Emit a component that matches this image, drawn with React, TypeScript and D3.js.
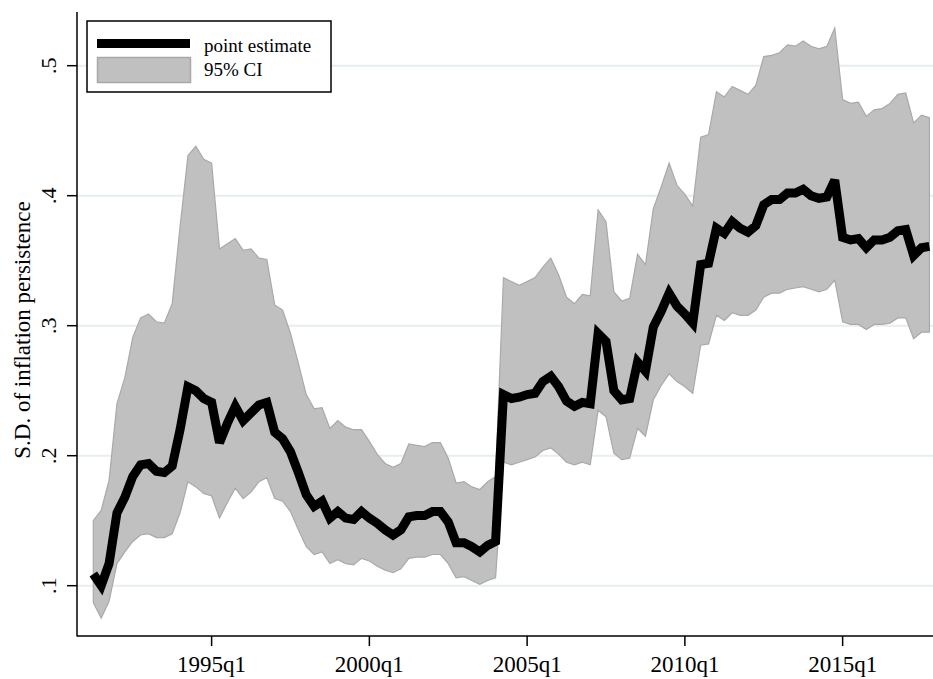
import React from "react";
import * as d3 from "d3";

const startYear = 1991;
const startQuarter = 2;

const estimate = [
  0.109, 0.100, 0.117, 0.156, 0.168, 0.184, 0.193, 0.194, 0.188, 0.187,
  0.192, 0.220, 0.253, 0.250, 0.244, 0.241, 0.210, 0.225, 0.238, 0.227,
  0.233, 0.239, 0.241, 0.218, 0.213, 0.203, 0.187, 0.170, 0.161, 0.165,
  0.152, 0.157, 0.152, 0.151, 0.157, 0.152, 0.148, 0.143, 0.139, 0.143,
  0.153, 0.154, 0.154, 0.157, 0.157, 0.149, 0.133, 0.133, 0.130, 0.126,
  0.131, 0.134, 0.247, 0.244, 0.245, 0.247, 0.248, 0.257, 0.261, 0.253,
  0.242, 0.238, 0.241, 0.240, 0.294, 0.288, 0.250, 0.243, 0.244, 0.272,
  0.265, 0.299, 0.311, 0.325, 0.315, 0.309, 0.302, 0.347, 0.348, 0.375,
  0.371, 0.380, 0.375, 0.372, 0.377, 0.393, 0.397, 0.397, 0.402, 0.402,
  0.405, 0.400, 0.398, 0.399, 0.412, 0.368, 0.366, 0.367, 0.360, 0.366,
  0.366, 0.368, 0.373, 0.374, 0.354, 0.360, 0.361,
];

const upper = [
  0.150, 0.158, 0.181, 0.240, 0.260, 0.291, 0.306, 0.309, 0.303, 0.302,
  0.317, 0.376, 0.431, 0.438, 0.428, 0.425, 0.359, 0.363, 0.367, 0.358,
  0.359, 0.352, 0.351, 0.316, 0.312, 0.294, 0.271, 0.247, 0.236, 0.237,
  0.221, 0.227, 0.222, 0.220, 0.220, 0.211, 0.201, 0.194, 0.191, 0.194,
  0.209, 0.208, 0.207, 0.210, 0.210, 0.198, 0.179, 0.180, 0.176, 0.174,
  0.180, 0.184, 0.337, 0.334, 0.331, 0.334, 0.337, 0.345, 0.352, 0.339,
  0.322, 0.317, 0.324, 0.323, 0.389, 0.380, 0.326, 0.319, 0.321, 0.355,
  0.347, 0.390, 0.407, 0.425, 0.408, 0.401, 0.392, 0.445, 0.447, 0.480,
  0.476, 0.484, 0.481, 0.478, 0.485, 0.507, 0.508, 0.510, 0.516, 0.515,
  0.519, 0.515, 0.513, 0.515, 0.529, 0.474, 0.471, 0.472, 0.461, 0.466,
  0.467, 0.471, 0.478, 0.479, 0.456, 0.462, 0.460,
];

const lower = [
  0.087, 0.075, 0.088, 0.117, 0.126, 0.134, 0.139, 0.140, 0.137, 0.137,
  0.140, 0.156, 0.180, 0.176, 0.171, 0.169, 0.152, 0.164, 0.175, 0.167,
  0.172, 0.180, 0.183, 0.167, 0.165, 0.157, 0.143, 0.130, 0.124, 0.126,
  0.117, 0.120, 0.117, 0.116, 0.121, 0.119, 0.115, 0.112, 0.110, 0.113,
  0.121, 0.122, 0.122, 0.124, 0.124, 0.117, 0.106, 0.107, 0.104, 0.101,
  0.104, 0.106, 0.195, 0.193, 0.195, 0.197, 0.199, 0.204, 0.206, 0.201,
  0.195, 0.193, 0.195, 0.193, 0.235, 0.230, 0.202, 0.197, 0.198, 0.221,
  0.215, 0.243, 0.254, 0.263, 0.257, 0.253, 0.248, 0.285, 0.286, 0.308,
  0.304, 0.310, 0.308, 0.308, 0.312, 0.322, 0.325, 0.325, 0.328, 0.329,
  0.330, 0.328, 0.326, 0.328, 0.335, 0.303, 0.301, 0.301, 0.297, 0.301,
  0.301, 0.302, 0.306, 0.306, 0.290, 0.295, 0.295,
];

const xTickLabels = ["1995q1", "2000q1", "2005q1", "2010q1", "2015q1"];
const yTicks = [0.1, 0.2, 0.3, 0.4, 0.5];
const yTickLabels = [".1", ".2", ".3", ".4", ".5"];
const legendLabels = ["point estimate", "95% CI"];
const yTitle = "S.D. of inflation persistence";

const W = 933;
const H = 679;
const FONT = "'Liberation Serif', 'Times New Roman', serif";

function quarterIndex(label: string): number {
  const y = parseInt(label.slice(0, 4), 10);
  const q = parseInt(label.slice(5), 10);
  return (y - startYear) * 4 + (q - startQuarter);
}

export default function App() {
  const n = estimate.length;
  const x = d3.scaleLinear().domain([0, n - 1]).range([93.3, 929.4]);
  const y = d3.scaleLinear().domain([0.1, 0.5]).range([585.7, 65.7]);

  const idx = d3.range(n);
  const area = d3
    .area<number>()
    .x((i) => x(i))
    .y0((i) => y(lower[i]))
    .y1((i) => y(upper[i]));
  const line = d3
    .line<number>()
    .x((i) => x(i))
    .y((i) => y(estimate[i]));

  const axisX = 77;
  const axisY = 636;

  return (
    <svg
      width={W}
      height={H}
      style={{ position: "absolute", left: 0, top: 0, background: "#fff" }}
      fontFamily={FONT}
    >
      <rect x={0} y={0} width={W} height={H} fill="#fff" />
      {yTicks.map((t) => (
        <line
          key={"g" + t}
          x1={axisX}
          x2={W}
          y1={y(t)}
          y2={y(t)}
          stroke="#e6eef0"
          strokeWidth={2}
        />
      ))}
      <path d={area(idx) || ""} fill="#c0c0c0" stroke="#a9a9a9" strokeWidth={1.2} />
      <path
        d={line(idx) || ""}
        fill="none"
        stroke="#000"
        strokeWidth={9}
        strokeLinejoin="miter"
        strokeMiterlimit={3}
      />
      {/* axes */}
      <line x1={axisX} x2={axisX} y1={12} y2={axisY + 0.5} stroke="#000" strokeWidth={1.5} />
      <line x1={axisX} x2={W} y1={axisY} y2={axisY} stroke="#000" strokeWidth={1.5} />
      {yTicks.map((t, k) => (
        <g key={"yt" + t}>
          <line x1={axisX - 10} x2={axisX} y1={y(t)} y2={y(t)} stroke="#000" strokeWidth={1.5} />
          <text
            transform={`translate(56,${y(t)}) rotate(-90)`}
            textAnchor="middle"
            fontSize={22}
            fill="#000"
          >
            {yTickLabels[k]}
          </text>
        </g>
      ))}
      {xTickLabels.map((lab) => {
        const xi = x(quarterIndex(lab));
        return (
          <g key={lab}>
            <line x1={xi} x2={xi} y1={axisY} y2={axisY + 10} stroke="#000" strokeWidth={1.5} />
            <text x={xi} y={672} textAnchor="middle" fontSize={23} fill="#000">
              {lab}
            </text>
          </g>
        );
      })}
      <text
        transform={`translate(30,330) rotate(-90)`}
        textAnchor="middle"
        fontSize={23}
        fill="#000"
      >
        {yTitle}
      </text>
      {/* legend */}
      <rect x={87} y={21} width={244} height={71} fill="#fff" stroke="#000" strokeWidth={1.5} />
      <rect x={97} y={39} width={93} height={9} fill="#000" />
      <rect x={97.5} y={57.5} width={93} height={25} fill="#c0c0c0" stroke="#a9a9a9" strokeWidth={1.5} />
      <text x={204} y={52} fontSize={19} fill="#000">
        {legendLabels[0]}
      </text>
      <text x={204} y={76} fontSize={19} fill="#000">
        {legendLabels[1]}
      </text>
    </svg>
  );
}
